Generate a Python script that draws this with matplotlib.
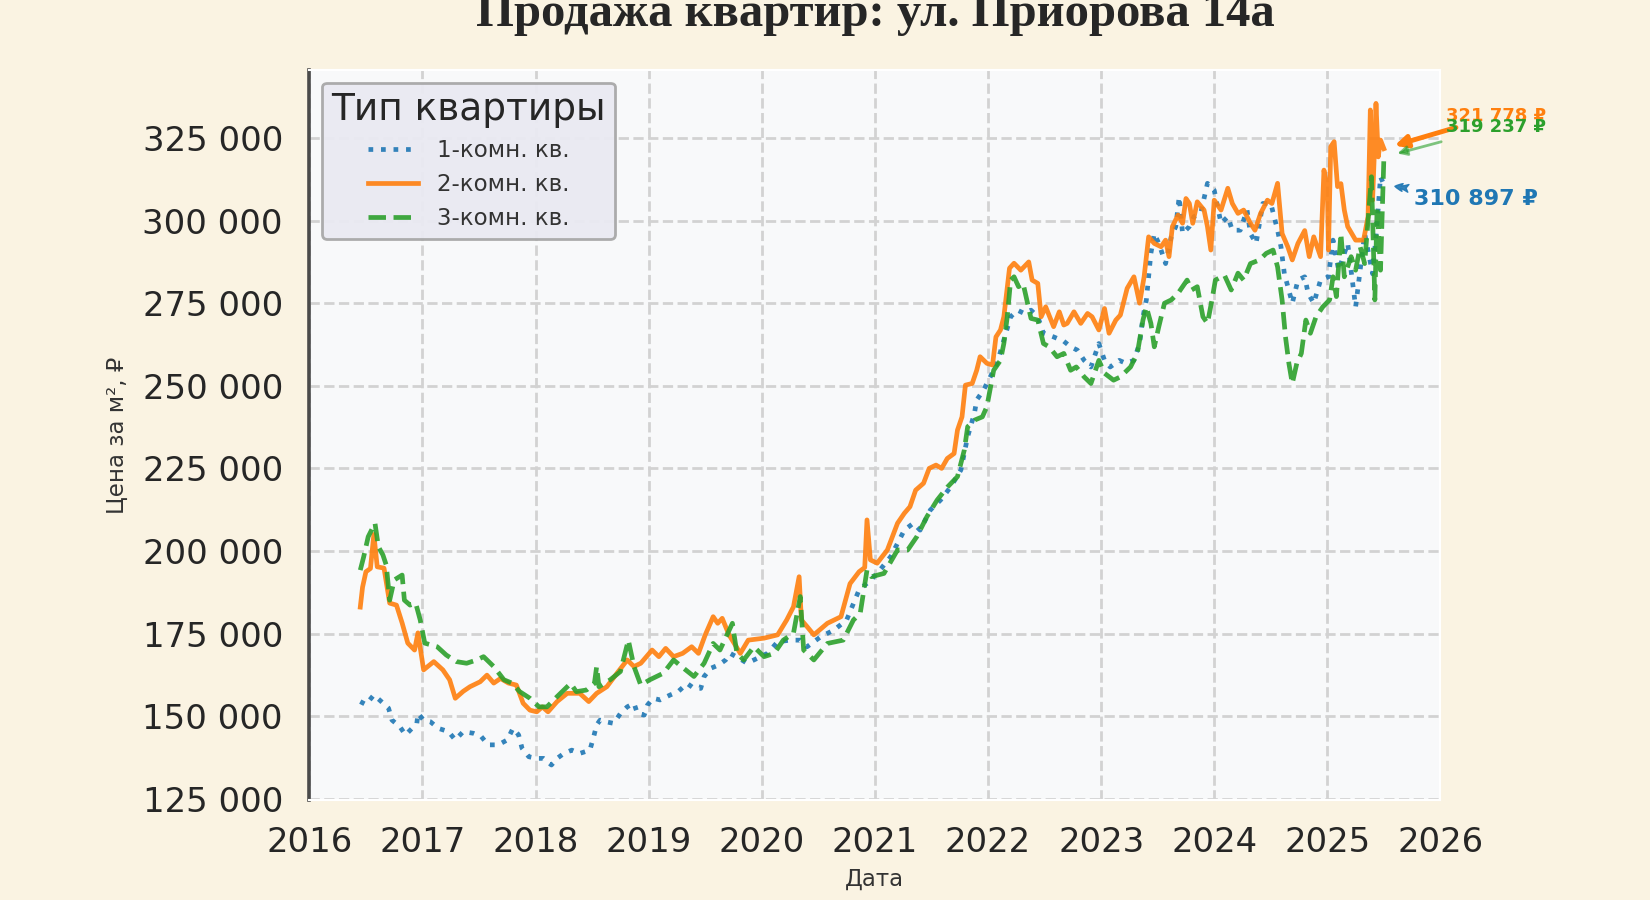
import matplotlib
matplotlib.use("Agg")
import matplotlib.pyplot as plt
import matplotlib.transforms as mtransforms
from matplotlib.ticker import FuncFormatter, FixedLocator

# ---------------- data (decimal years, price per m2) ----------------
x1 = [2016.45, 2016.50, 2016.57, 2016.62, 2016.70, 2016.73, 2016.80, 2016.85, 2016.95, 2016.96,
      2017.01, 2017.07, 2017.14, 2017.23, 2017.29, 2017.36, 2017.45, 2017.52, 2017.58, 2017.67,
      2017.75, 2017.80, 2017.85, 2017.88, 2017.94, 2018.01, 2018.07, 2018.14, 2018.19, 2018.25,
      2018.32, 2018.39, 2018.48, 2018.51, 2018.54, 2018.57, 2018.62, 2018.69, 2018.75, 2018.81,
      2018.87, 2018.90, 2018.96, 2018.99, 2019.04, 2019.10, 2019.19, 2019.26, 2019.34, 2019.40,
      2019.46, 2019.49, 2019.55, 2019.62, 2019.68, 2019.72, 2019.80, 2019.87, 2019.96, 2020.05,
      2020.14, 2020.25, 2020.34, 2020.40, 2020.52, 2020.64, 2020.75, 2020.86, 2020.94, 2021.02,
      2021.14, 2021.26, 2021.34, 2021.40, 2021.49, 2021.58, 2021.67, 2021.76, 2021.82, 2021.88,
      2021.90, 2021.96, 2022.02, 2022.08, 2022.14, 2022.20, 2022.26, 2022.32, 2022.38, 2022.44,
      2022.49, 2022.58, 2022.67, 2022.73, 2022.79, 2022.85, 2022.91, 2022.98, 2023.03, 2023.08,
      2023.16, 2023.22, 2023.29, 2023.34, 2023.37, 2023.40, 2023.44, 2023.47, 2023.51, 2023.57,
      2023.62, 2023.66, 2023.69, 2023.72, 2023.78, 2023.82, 2023.88, 2023.94, 2024.00, 2024.06,
      2024.12, 2024.16, 2024.23, 2024.29, 2024.32, 2024.37, 2024.43, 2024.50, 2024.56, 2024.59,
      2024.62, 2024.66, 2024.69, 2024.74, 2024.80, 2024.83, 2024.88, 2024.94, 2025.01, 2025.05,
      2025.10, 2025.18, 2025.25, 2025.33, 2025.40, 2025.44, 2025.47, 2025.50]
y1 = [154400, 153500, 156400, 154900, 152400, 148800, 146800, 144300, 147800, 150800,
      148800, 148300, 146300, 145300, 142800, 145300, 144800, 143800, 141300, 141300,
      142800, 146300, 144300, 140300, 137700, 137200, 137200, 135200, 137200, 138700,
      139700, 138700, 139700, 143300, 147300, 148800, 148300, 147800, 150800, 152800,
      153900, 150800, 150300, 153400, 155400, 154900, 156400, 157400, 159900, 158400,
      158400, 162000, 164500, 165500, 167000, 169000, 167500, 166000, 167500, 169000,
      172500, 173000, 173000, 171000, 174000, 176100, 179100, 188200, 190500, 193200,
      198300, 206300, 208400, 206300, 212400, 215400, 219400, 224500, 234600, 241700,
      245700, 248700, 252700, 256800, 263800, 270900, 272900, 271900, 272900, 270900,
      265900, 264800, 263500, 261800, 260800, 257700, 255700, 262800, 257700, 255700,
      257700, 256800, 257700, 262800, 270900, 276000, 290100, 296100, 293100, 287000,
      295100, 298200, 307200, 296100, 298200, 301200, 302200, 311300, 309200, 299200,
      301200, 297100, 297100, 303200, 296100, 293100, 305200, 305200, 297100, 292100,
      283900, 278900, 275000, 282000, 283000, 278000, 275000, 282000, 283000, 294100,
      285000, 293100, 273900, 296100, 283900, 299200, 313300, 310897]

x2 = [2016.45, 2016.47, 2016.50, 2016.54, 2016.57, 2016.60, 2016.66, 2016.71, 2016.77, 2016.82,
      2016.87, 2016.93, 2016.96, 2017.01, 2017.10, 2017.18, 2017.24, 2017.29, 2017.36, 2017.42,
      2017.51, 2017.57, 2017.63, 2017.69, 2017.76, 2017.83, 2017.89, 2017.95, 2018.01, 2018.06,
      2018.11, 2018.19, 2018.28, 2018.39, 2018.47, 2018.54, 2018.63, 2018.72, 2018.81, 2018.87,
      2018.93, 2019.03, 2019.09, 2019.15, 2019.22, 2019.30, 2019.38, 2019.44, 2019.50, 2019.57,
      2019.61, 2019.65, 2019.71, 2019.81, 2019.88, 2020.02, 2020.14, 2020.22, 2020.28, 2020.33,
      2020.35, 2020.40, 2020.46, 2020.58, 2020.70, 2020.78, 2020.86, 2020.91, 2020.93, 2020.96,
      2021.02, 2021.11, 2021.20, 2021.26, 2021.31, 2021.36, 2021.43, 2021.48, 2021.54, 2021.59,
      2021.64, 2021.70, 2021.73, 2021.77, 2021.80, 2021.86, 2021.90, 2021.93, 2021.99, 2022.04,
      2022.07, 2022.11, 2022.14, 2022.19, 2022.23, 2022.29, 2022.36, 2022.39, 2022.44, 2022.47,
      2022.51, 2022.58, 2022.63, 2022.67, 2022.70, 2022.76, 2022.82, 2022.88, 2022.92, 2022.98,
      2023.03, 2023.07, 2023.13, 2023.17, 2023.23, 2023.29, 2023.34, 2023.38, 2023.42, 2023.47,
      2023.53, 2023.57, 2023.60, 2023.63, 2023.68, 2023.72, 2023.75, 2023.78, 2023.81, 2023.85,
      2023.91, 2023.94, 2023.97, 2024.00, 2024.06, 2024.12, 2024.16, 2024.21, 2024.26, 2024.32,
      2024.36, 2024.41, 2024.47, 2024.51, 2024.56, 2024.60, 2024.65, 2024.69, 2024.74, 2024.80,
      2024.84, 2024.88, 2024.94, 2024.97, 2025.00, 2025.01, 2025.03, 2025.06, 2025.09, 2025.12,
      2025.15, 2025.18, 2025.25, 2025.32, 2025.36, 2025.38, 2025.40, 2025.42, 2025.43, 2025.45,
      2025.47, 2025.50]
y2 = [183000, 189000, 193700, 194700, 205000, 195200, 194800, 184200, 183600, 178200,
      172100, 170000, 175200, 164000, 166500, 164000, 161000, 155400, 157500, 158900,
      160400, 162400, 160000, 161400, 160000, 159400, 153900, 151800, 151300, 152800,
      151300, 154400, 156900, 156900, 154400, 156900, 158900, 163000, 167000, 165000,
      166000, 170000, 168000, 170500, 168000, 169000, 171000, 169000, 174600, 180100,
      178100, 179600, 174600, 169000, 173000, 173600, 174600, 179100, 183100, 192200,
      179100, 177100, 174600, 178100, 180100, 190100, 193700, 195000, 209400, 197300,
      196300, 200300, 208400, 211400, 213400, 218400, 220500, 225000, 226000, 225000,
      228000, 229500, 236600, 240600, 250200, 250700, 254700, 258800, 256800, 256300,
      264800, 266900, 270900, 285600, 287100, 285000, 287500, 282000, 281000, 270900,
      273900, 267900, 272400, 268400, 268900, 272400, 268900, 271900, 270900, 266900,
      273400, 265900, 269900, 271400, 279500, 283000, 275000, 283000, 295100, 293100,
      292100, 294100, 289100, 298200, 301700, 299200, 306700, 305200, 299200, 305700,
      303200, 298200, 291100, 306200, 303200, 309800, 305200, 302200, 303200, 299200,
      297100, 302200, 306200, 305200, 311300, 296100, 292100, 288100, 293100, 297000,
      289100, 295100, 289100, 315300, 309200, 291100, 322400, 323900, 310300, 311200,
      303200, 298200, 294100, 294100, 301200, 333500, 306200, 324400, 335500, 319300,
      324400, 321778]

x3 = [2016.45, 2016.48, 2016.52, 2016.58, 2016.61, 2016.65, 2016.68, 2016.71, 2016.75, 2016.82,
      2016.84, 2016.89, 2016.94, 2016.98, 2017.02, 2017.13, 2017.21, 2017.30, 2017.39, 2017.48,
      2017.54, 2017.63, 2017.72, 2017.79, 2017.86, 2017.95, 2018.03, 2018.10, 2018.19, 2018.31,
      2018.36, 2018.45, 2018.52, 2018.54, 2018.56, 2018.66, 2018.75, 2018.82, 2018.87, 2018.93,
      2019.01, 2019.13, 2019.22, 2019.29, 2019.40, 2019.49, 2019.57, 2019.63, 2019.74, 2019.78,
      2019.84, 2019.93, 2020.02, 2020.11, 2020.19, 2020.28, 2020.34, 2020.37, 2020.46, 2020.58,
      2020.72, 2020.81, 2020.87, 2020.93, 2020.97, 2021.08, 2021.20, 2021.29, 2021.37, 2021.46,
      2021.55, 2021.64, 2021.73, 2021.79, 2021.82, 2021.88, 2021.95, 2021.99, 2022.05, 2022.11,
      2022.14, 2022.17, 2022.20, 2022.23, 2022.27, 2022.31, 2022.35, 2022.38, 2022.44, 2022.49,
      2022.54, 2022.61, 2022.67, 2022.73, 2022.78, 2022.85, 2022.91, 2022.98, 2023.03, 2023.11,
      2023.17, 2023.26, 2023.32, 2023.37, 2023.40, 2023.44, 2023.47, 2023.51, 2023.56, 2023.62,
      2023.68, 2023.72, 2023.76, 2023.80, 2023.85, 2023.90, 2023.94, 2023.98, 2024.01, 2024.09,
      2024.15, 2024.21, 2024.26, 2024.32, 2024.40, 2024.46, 2024.52, 2024.56, 2024.60, 2024.63,
      2024.66, 2024.69, 2024.73, 2024.77, 2024.81, 2024.85, 2024.90, 2024.96, 2025.02, 2025.05,
      2025.08, 2025.12, 2025.15, 2025.21, 2025.25, 2025.29, 2025.33, 2025.39, 2025.42, 2025.44,
      2025.47, 2025.50]
y3 = [194200, 198200, 204300, 208400, 201300, 198800, 195700, 185100, 191200, 192700,
      185100, 183600, 184200, 179100, 172100, 171000, 168500, 166500, 166000, 167000,
      168000, 165000, 161000, 160000, 157400, 155400, 152800, 152800, 155900, 159900,
      157400, 157900, 159900, 165000, 158900, 161000, 163500, 173000, 165000, 159400,
      161000, 163000, 167000, 165000, 162000, 166000, 172000, 170000, 178100, 169000,
      167000, 171000, 168000, 169000, 173000, 175100, 186200, 170000, 167000, 172000,
      173000, 179100, 181100, 194200, 192200, 193200, 200300, 200300, 204300, 210400,
      215400, 219300, 222500, 230500, 237600, 239600, 240600, 243700, 254700, 257700,
      262800, 270900, 282000, 283000, 280000, 281000, 275000, 270400, 269900, 262800,
      261800, 258800, 259800, 254700, 255700, 252700, 250700, 257700, 253800, 251700,
      252700, 255700, 259800, 269900, 273900, 268900, 261800, 267900, 275000, 276000,
      278000, 280000, 282000, 279000, 280000, 270900, 268900, 276000, 282000, 283500,
      279000, 284100, 282000, 287000, 288100, 290100, 291100, 286000, 276000, 264800,
      256800, 250700, 256800, 259800, 269900, 265900, 270900, 273900, 276000, 283000,
      277000, 296100, 283000, 289100, 285000, 292100, 287000, 313300, 276000, 304200,
      285000, 319237]

series_labels = ["1-комн. кв.", "2-комн. кв.", "3-комн. кв."]
year_ticks = [2016, 2017, 2018, 2019, 2020, 2021, 2022, 2023, 2024, 2025, 2026]
price_ticks = [125000, 150000, 175000, 200000, 225000, 250000, 275000, 300000, 325000]

title_text = "Продажа квартир: ул. Приорова 14а"

# ---------------- figure ----------------
BG = "#faf3e2"
fig = plt.figure(figsize=(16.5, 9), dpi=100, facecolor=BG)
ax = fig.add_axes([0.1875, 0.1111, 0.6855, 0.8111])
ax.set_facecolor("#f8f9fa")

c1, c2, c3 = "#1f77b4", "#ff7f0e", "#2ca02c"
ax.plot(x1, y1, linestyle=":", color=c1, lw=3.4, alpha=0.9, label=series_labels[0], zorder=3)
ax.plot(x2, y2, linestyle="-", color=c2, lw=3.4, alpha=0.9, label=series_labels[1], zorder=3)
ax.plot(x3, y3, linestyle="--", color=c3, lw=3.4, alpha=0.9, label=series_labels[2], zorder=3)

ax.set_xlim(2016, 2026)
ax.set_ylim(124600, 345600)
ax.xaxis.set_major_locator(FixedLocator(year_ticks))
ax.yaxis.set_major_locator(FixedLocator(price_ticks))
ax.xaxis.set_major_formatter(FuncFormatter(lambda v, p: f"{int(round(v))}"))
ax.yaxis.set_major_formatter(FuncFormatter(lambda v, p: f"{int(v):,}".replace(",", " ")))
ax.tick_params(axis="both", length=0, labelsize=24.4, labelcolor="#262626", pad=19)

ax.grid(True, linestyle="--", color="#d2d2d2", lw=2.0, zorder=0)
for s in ["top", "right", "bottom"]:
    ax.spines[s].set_color("white")
    ax.spines[s].set_linewidth(1.5)
ax.spines["left"].set_color("#4a4a4a")
ax.spines["left"].set_linewidth(2.6)

ax.set_xlabel("Дата", fontsize=16.5, color="#333333", labelpad=6)
ax.set_ylabel("Цена за м², ₽", fontsize=16.5, color="#333333", labelpad=10)

leg = ax.legend(title="Тип квартиры", loc="upper left", fontsize=16.5, title_fontsize=27,
                frameon=True, fancybox=True, facecolor="#eaeaf2", edgecolor="#a8a8a8",
                framealpha=0.95, borderaxespad=0.55, labelspacing=0.48, handlelength=2.2)
leg.get_frame().set_linewidth(2.0)
leg.get_title().set_color("#262626")
for t in leg.get_texts():
    t.set_color("#333333")

# end annotations
ax.annotate(f"{y2[-1]:,.0f} ₽".replace(",", " "), xy=(x2[-1], y2[-1]), xytext=(62, 28),
            textcoords="offset pixels", fontsize=13, fontweight="bold", color=c2,
            ha="left", va="baseline", annotation_clip=False,
            arrowprops=dict(arrowstyle="-|>", color=c2, lw=3.5, mutation_scale=18, shrinkA=0, shrinkB=8))
ax.annotate(f"{y3[-1]:,.0f} ₽".replace(",", " "), xy=(x3[-1], y3[-1]), xytext=(62, 25),
            textcoords="offset pixels", fontsize=13, fontweight="bold", color=c3,
            ha="left", va="baseline", annotation_clip=False,
            arrowprops=dict(arrowstyle="-|>", color=c3, lw=2, alpha=0.6, mutation_scale=14,
                            shrinkA=8, shrinkB=10))
ax.annotate(f"{y1[-1]:,.0f} ₽".replace(",", " "), xy=(x1[-1], y1[-1]), xytext=(30, -20),
            textcoords="offset pixels", fontsize=16, fontweight="bold", color=c1,
            ha="left", va="baseline", annotation_clip=False,
            arrowprops=dict(arrowstyle="fancy", color=c1, alpha=0.9, mutation_scale=14,
                            shrinkA=2, shrinkB=8))

ax.text(0.5, 1 - 26 / 900, title_text,
        transform=mtransforms.blended_transform_factory(ax.transAxes, fig.transFigure),
        ha="center", va="baseline", fontsize=35, fontweight="bold", family="Liberation Serif",
        color="#262626")

fig.savefig("out.png", dpi=100, facecolor=BG)
